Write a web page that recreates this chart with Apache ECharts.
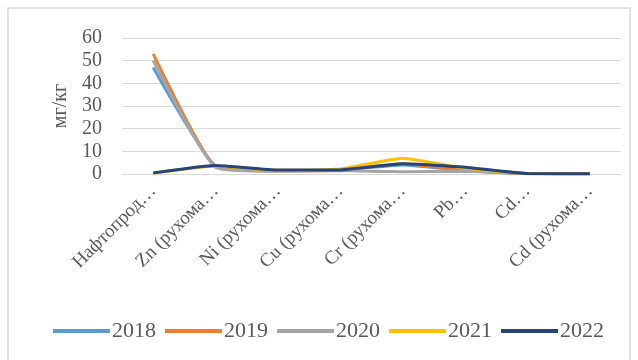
<!DOCTYPE html>
<html>
<head>
<meta charset="utf-8">
<script src="https://cdn.jsdelivr.net/npm/echarts@6/dist/echarts.min.js"></script>
<style>
html,body{margin:0;padding:0;background:#fff;}
#main{width:638px;height:360px;}
</style>
</head>
<body>
<div id="main"></div>
<script>
var categories = ["Нафтопрод…","Zn (рухома…","Ni (рухома…","Cu (рухома…","Cr (рухома…","Pb…","Cd…","Cd (рухома…"];
var years = ["2018","2019","2020","2021","2022"];
var s2018 = [47, 3.5, 1.5, 1.8, 4.0, 1.5, 0.2, 0.1];
var s2019 = [53, 3.2, 1.4, 1.7, 4.5, 1.5, 0.2, 0.1];
var s2020 = [50, 3.0, 1.2, 1.5, 1.0, 1.2, 0.1, 0.05];
var s2021 = [0.3, 3.5, 1.6, 2.2, 7.0, 2.5, 0.2, 0.1];
var s2022 = [0.5, 3.8, 1.8, 1.8, 4.5, 3.0, 0.2, 0.1];
var yTicks = [0, 10, 20, 30, 40, 50, 60];
var yAxisTitle = "мг/кг";

var colors = ["#5B9BD5","#ED7D31","#A5A5A5","#FFC000","#264478"];
var seriesData = [s2018, s2019, s2020, s2021, s2022];
var FONT = "Liberation Serif";
var TXT = "#595959";

var chart = echarts.init(document.getElementById('main'), null, {renderer:'canvas'});
chart.setOption({
  animation: false,
  color: colors,
  graphic: [{
    type: 'rect', z: -10, silent: true,
    shape: {x: 8, y: 8, width: 622, height: 420},
    style: {fill: 'none', stroke: '#d9d9d9', lineWidth: 1.5}
  }],
  grid: {left: 122, right: 17, top: 38, bottom: 186, containLabel: false},
  legend: {
    data: years, left: 48, top: 315,
    icon: 'rect', itemWidth: 57, itemHeight: 4, itemGap: 9,
    textStyle: {fontFamily: FONT, fontSize: 22, color: TXT, padding: [0,0,0,-3]}
  },
  xAxis: {
    type: 'category', data: categories, boundaryGap: true,
    axisLine: {show: true, lineStyle: {color: '#d9d9d9'}},
    axisTick: {show: false},
    axisLabel: {rotate: 45, interval: 0, margin: 14, fontFamily: FONT, fontSize: 19, color: TXT}
  },
  yAxis: {
    type: 'value', min: yTicks[0], max: yTicks[yTicks.length-1], interval: 10,
    name: yAxisTitle, nameLocation: 'middle', nameRotate: 90, nameGap: 48,
    nameTextStyle: {fontFamily: FONT, fontSize: 20, color: TXT},
    axisLine: {show: false}, axisTick: {show: false},
    axisLabel: {margin: 20, fontFamily: FONT, fontSize: 20, color: TXT},
    splitLine: {lineStyle: {color: '#d9d9d9', width: 1}}
  },
  series: years.map(function(y, i){
    return {
      name: y, type: 'line', data: seriesData[i],
      smooth: 0.15, showSymbol: false, symbol: 'none',
      lineStyle: {width: 3, color: colors[i]},
      z: 2 + i
    };
  })
});
</script>
</body>
</html>
